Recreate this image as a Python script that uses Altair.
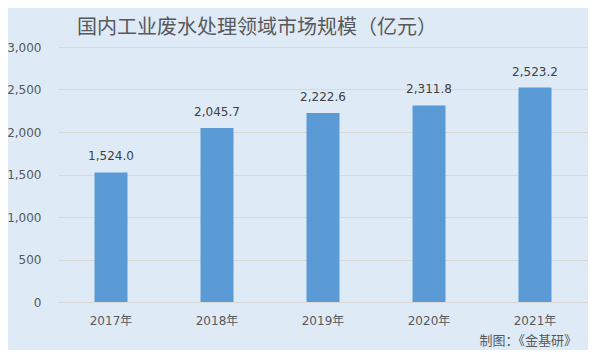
import altair as alt
import pandas as pd

years = ["2017年", "2018年", "2019年", "2020年", "2021年"]
values = [1524.0, 2045.7, 2222.6, 2311.8, 2523.2]
y_ticks = [0, 500, 1000, 1500, 2000, 2500, 3000]
title_text = "国内工业废水处理领域市场规模（亿元）"
source_text = "制图：《金基研》"

df = pd.DataFrame({"year": years, "value": values})
FONT = "DejaVu Sans, Noto Sans CJK SC"
CJK = "Noto Sans CJK SC"

base = alt.Chart(df)

bars = base.mark_bar(color="#5b9bd5", size=33).encode(
    x=alt.X("year:N", sort=years, title=None,
            axis=alt.Axis(labelAngle=0, labelFontSize=12, labelColor="#595959",
                          labelFont=FONT, ticks=False, domainColor="#d9d9d9",
                          labelPadding=13, grid=False)),
    y=alt.Y("value:Q", title=None, scale=alt.Scale(domain=[0, 3000]),
            axis=alt.Axis(values=y_ticks, format=",.0f",
                          labelFontSize=12, labelColor="#595959", labelFont=FONT,
                          ticks=False, domain=False, gridColor="#d9d9d9",
                          labelPadding=17)),
)

labels = base.mark_text(baseline="bottom", dy=-9, fontSize=12, color="#404040", font=FONT).encode(
    x=alt.X("year:N", sort=years),
    y="value:Q",
    text=alt.Text("value:Q", format=",.1f"),
)

title = alt.Chart(pd.DataFrame({"t": [title_text]})).mark_text(
    fontSize=20, color="#595959", font=CJK, align="center", baseline="middle"
).encode(x=alt.value(199), y=alt.value(-19), text="t:N")

source = alt.Chart(pd.DataFrame({"t": [source_text]})).mark_text(
    fontSize=13, color="#595959", font=CJK, align="right", baseline="middle"
).encode(x=alt.value(519), y=alt.value(294), text="t:N")

chart = alt.layer(bars, labels, title, source).properties(
    width=530, height=255, background="#deebf7",
    padding={"left": 50, "top": 39, "right": 0, "bottom": 48},
    autosize=alt.AutoSizeParams(type="none"),
).configure_view(stroke=None)

chart.save("out.html", embed_options={"renderer": "svg", "actions": False})
